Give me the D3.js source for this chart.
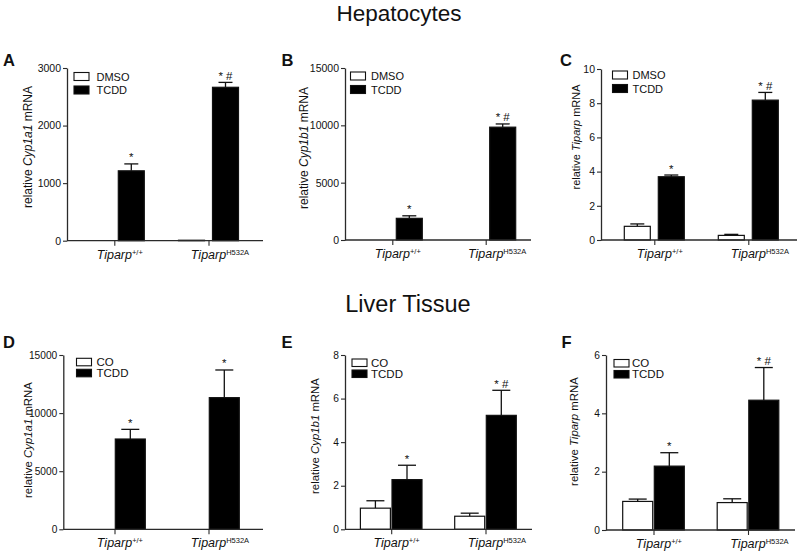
<!DOCTYPE html>
<html><head><meta charset="utf-8">
<script src="https://cdn.jsdelivr.net/npm/d3@7"></script>
<style>
body{margin:0;background:#fff;}
svg text{font-family:"Liberation Sans",Arial,Helvetica,sans-serif;fill:#111;}
</style></head>
<body><svg id="c" width="798" height="555"></svg>
<script>
// ---------- data ----------
const groups = ["Tiparp+/+", "TiparpH532A"];
const groupMain = ["Tiparp", "Tiparp"];
const groupSup = ["+/+", "H532A"];
const hepTreatments = ["DMSO", "TCDD"];
const liverTreatments = ["CO", "TCDD"];
const sectionTitles = ["Hepatocytes", "Liver Tissue"];
const panelLetters = ["A", "B", "C", "D", "E", "F"];
const geneNames = ["Cyp1a1", "Cyp1b1", "Tiparp", "Cyp1a1", "Cyp1b1", "Tiparp"];

const ticksA = [0, 1000, 2000, 3000];
const ticksB = [0, 5000, 10000, 15000];
const ticksC = [0, 2, 4, 6, 8, 10];
const ticksD = [0, 5000, 10000, 15000];
const ticksE = [0, 2, 4, 6, 8];
const ticksF = [0, 2, 4, 6];

const ctrlA = [0, 8],       ctrlErrA = [0, 0];
const tcddA = [1214, 2665], tcddErrA = [120, 85];
const ctrlB = [0, 0],       ctrlErrB = [0, 0];
const tcddB = [1890, 9840], tcddErrB = [220, 280];
const ctrlC = [0.80, 0.27], ctrlErrC = [0.14, 0.06];
const tcddC = [3.70, 8.18], tcddErrC = [0.10, 0.45];
const ctrlD = [0, 0],       ctrlErrD = [0, 0];
const tcddD = [7770, 11330], tcddErrD = [830, 2380];
const ctrlE = [0.97, 0.60], ctrlErrE = [0.34, 0.14];
const tcddE = [2.28, 5.23], tcddErrE = [0.66, 1.15];
const ctrlF = [0.98, 0.94], ctrlErrF = [0.08, 0.13];
const tcddF = [2.19, 4.45], tcddErrF = [0.46, 1.12];

const marksA = ["*", "* #"], marksB = ["*", "* #"], marksC = ["*", "* #"];
const marksD = ["*", "*"],   marksE = ["*", "* #"], marksF = ["*", "* #"];

// ---------- layout (positions/styles only) ----------
const topRow = {yTop:68, y0:240.7, bw:26, gap:8, cap:14, legFs:11, boxW:15, boxH:8, legStep:13.5, tickFs:10.5};
const botRow = {yTop:355, y0:529.3, bw:30, gap:1.6, cap:18, legFs:11.5, boxW:15, boxH:7.5, legStep:11, tickFs:10.2};
const layout = [
  Object.assign({}, topRow, {ax:67,  right:263, t1:114.3, t2:208.5, lx:74,  ly:72.5, tx:96.5, letX:3,   letY:66,  labX:28,  labY:147, labFs:12}),
  Object.assign({}, topRow, {ax:345, right:531, t1:392.3, t2:485.7, y0:240, lx:350.5, ly:72, tx:371, letX:281.5, letY:66, labX:303.5, labY:148, labFs:12}),
  Object.assign({}, topRow, {ax:601, right:797, t1:654.3, t2:748.3, yTop:69, y0:240, lx:612.5, ly:71, tx:632.5, letX:560, letY:66, labX:576, labY:137, labFs:11}),
  Object.assign({}, botRow, {ax:63.3, right:263, t1:114.5, t2:208.5, lx:76.5, ly:358.3, tx:96.5, letX:3, letY:347.5, labX:28, labY:440, labFs:11.4}),
  Object.assign({}, botRow, {ax:345, right:532, t1:391.2, t2:485.5, lx:352, ly:359, tx:371, letX:281.5, letY:348, labX:315, labY:436, labFs:11.4}),
  Object.assign({}, botRow, {ax:606, right:795, t1:653.5, t2:748, y0:530, lx:614, ly:359.5, tx:632, letX:561.5, letY:348, labX:573.5, labY:431.5, labFs:11.4})
];

const panels = [
  {ticks:ticksA, ctrl:ctrlA, ctrlErr:ctrlErrA, tcdd:tcddA, tcddErr:tcddErrA, marks:marksA, trt:hepTreatments},
  {ticks:ticksB, ctrl:ctrlB, ctrlErr:ctrlErrB, tcdd:tcddB, tcddErr:tcddErrB, marks:marksB, trt:hepTreatments},
  {ticks:ticksC, ctrl:ctrlC, ctrlErr:ctrlErrC, tcdd:tcddC, tcddErr:tcddErrC, marks:marksC, trt:hepTreatments},
  {ticks:ticksD, ctrl:ctrlD, ctrlErr:ctrlErrD, tcdd:tcddD, tcddErr:tcddErrD, marks:marksD, trt:liverTreatments},
  {ticks:ticksE, ctrl:ctrlE, ctrlErr:ctrlErrE, tcdd:tcddE, tcddErr:tcddErrE, marks:marksE, trt:liverTreatments},
  {ticks:ticksF, ctrl:ctrlF, ctrlErr:ctrlErrF, tcdd:tcddF, tcddErr:tcddErrF, marks:marksF, trt:liverTreatments}
];

const svg = d3.select("#c");
const AX = "#2a2a2a";

// section titles
svg.append("text").attr("x", 399).attr("y", 21).attr("text-anchor", "middle")
  .style("font-size", "22.5px").text(sectionTitles[0]);
svg.append("text").attr("x", 408).attr("y", 311.5).attr("text-anchor", "middle")
  .style("font-size", "23.5px").text(sectionTitles[1]);

panels.forEach((p, i) => {
  const L = layout[i];
  const g = svg.append("g");
  const y = d3.scaleLinear().domain([0, d3.max(p.ticks)]).range([L.y0, L.yTop]);
  const x = d3.scalePoint().domain(groups).range([L.t1, L.t2]);
  const sub = d3.scaleBand().domain(p.trt)
    .range([-(L.bw + L.gap / 2), L.bw + L.gap / 2])
    .paddingInner(L.gap / (L.bw + L.gap)).paddingOuter(0);

  // y axis
  const ya = g.append("g").attr("transform", `translate(${L.ax},0)`)
    .call(d3.axisLeft(y).tickValues(p.ticks).tickFormat(d => String(d))
      .tickSize(4).tickSizeOuter(0).tickPadding(2));
  ya.select(".domain").attr("stroke", AX).attr("stroke-width", 1.3);
  ya.selectAll(".tick line").attr("stroke", AX).attr("stroke-width", 1.1);
  ya.selectAll(".tick text").style("font-size", L.tickFs + "px")
    .style("font-family", '"Liberation Sans",Arial,sans-serif').attr("fill", "#222");

  // data
  const rows = groups.map((gr, k) => ({g: gr, k,
    vals: [{t: p.trt[0], v: p.ctrl[k], e: p.ctrlErr[k]}, {t: p.trt[1], v: p.tcdd[k], e: p.tcddErr[k]}]}));

  rows.forEach(r => {
    r.vals.forEach((d, j) => {
      const bx = x(r.g) + sub(d.t);
      const cx = bx + sub.bandwidth() / 2;
      if (d.e > 0) {
        g.append("line").attr("x1", cx).attr("x2", cx).attr("y1", y(d.v)).attr("y2", y(d.v + d.e))
          .attr("stroke", "#111").attr("stroke-width", 1.3);
        g.append("line").attr("x1", cx - L.cap / 2).attr("x2", cx + L.cap / 2)
          .attr("y1", y(d.v + d.e)).attr("y2", y(d.v + d.e))
          .attr("stroke", "#111").attr("stroke-width", 1.3);
      }
      if (d.v > 0) {
        g.append("rect").attr("x", bx).attr("y", y(d.v)).attr("width", sub.bandwidth())
          .attr("height", y(0) - y(d.v))
          .attr("fill", j === 0 ? "#fff" : "#000").attr("stroke", "#111").attr("stroke-width", 1.2);
      }
      if (j === 1) {
        g.append("text").attr("x", cx).attr("y", y(d.v + d.e) - 2.5).attr("text-anchor", "middle")
          .style("font-size", "11.5px").text(p.marks[r.k]);
      }
    });
  });

  // x axis
  g.append("line").attr("x1", L.ax).attr("x2", L.right).attr("y1", L.y0).attr("y2", L.y0)
    .attr("stroke", AX).attr("stroke-width", 1.3);
  const xa = g.append("g").attr("transform", `translate(0,${L.y0})`)
    .call(d3.axisBottom(x).tickSize(5).tickFormat(""));
  xa.select(".domain").remove();
  xa.selectAll(".tick line").attr("stroke", AX).attr("stroke-width", 1.1);

  groups.forEach((gr, k) => {
    const t = g.append("text").attr("y", L.y0 + 18).style("font-size", "12.5px");
    t.append("tspan").style("font-style", "italic").text(groupMain[k]);
    const w = t.node().getComputedTextLength();
    t.attr("x", x(gr) - w / 2);
    t.append("tspan").attr("dy", -4).style("font-size", "7.5px").text(groupSup[k]);
  });

  // y label
  const yl = g.append("text").attr("transform", `translate(${L.labX},${L.labY}) rotate(-90)`)
    .attr("text-anchor", "middle").attr("dy", "0.35em").style("font-size", L.labFs + "px");
  yl.append("tspan").text("relative ");
  yl.append("tspan").style("font-style", "italic").text(geneNames[i]);
  yl.append("tspan").text(" mRNA");

  // legend
  p.trt.forEach((t, j) => {
    const yy = L.ly + j * L.legStep;
    g.append("rect").attr("x", L.lx).attr("y", yy).attr("width", L.boxW).attr("height", L.boxH)
      .attr("fill", j === 0 ? "#fff" : "#000").attr("stroke", "#111").attr("stroke-width", 1.1);
    g.append("text").attr("x", L.tx).attr("y", yy + L.boxH).style("font-size", L.legFs + "px").text(t);
  });

  // panel letter
  g.append("text").attr("x", L.letX).attr("y", L.letY).style("font-size", "16.5px")
    .style("font-weight", "bold").text(panelLetters[i]);
});
</script></body></html>
